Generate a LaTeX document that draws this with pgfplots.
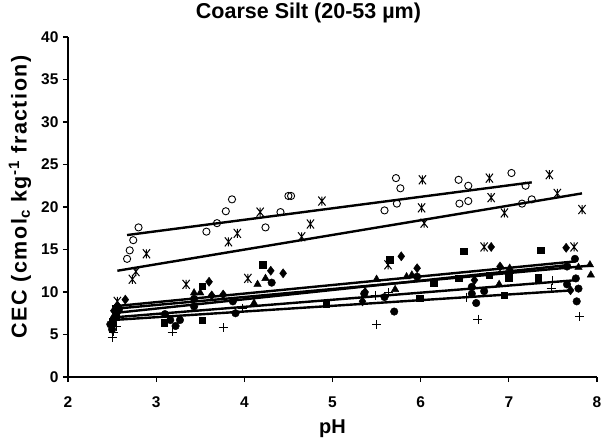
\documentclass[border=0pt]{standalone}
\usepackage{pgfplots}
\pgfplotsset{compat=1.18}
\usepackage{fontspec}
\setmainfont{Liberation Sans}
\pgfdeclareplotmark{xast}{%
  \pgfpathmoveto{\pgfqpoint{-0.8\pgfplotmarksize}{-\pgfplotmarksize}}%
  \pgfpathlineto{\pgfqpoint{0.8\pgfplotmarksize}{\pgfplotmarksize}}%
  \pgfpathmoveto{\pgfqpoint{-0.8\pgfplotmarksize}{\pgfplotmarksize}}%
  \pgfpathlineto{\pgfqpoint{0.8\pgfplotmarksize}{-\pgfplotmarksize}}%
  \pgfpathmoveto{\pgfqpoint{0pt}{-\pgfplotmarksize}}%
  \pgfpathlineto{\pgfqpoint{0pt}{\pgfplotmarksize}}%
  \pgfusepathqstroke}
\begin{document}
\begin{tikzpicture}
\begin{axis}[
  scale only axis, width=529pt, height=340pt,
  xmin=2, xmax=8, ymin=0, ymax=40,
  axis lines=left, axis line style={-, line width=1.6pt},
  xtick={2,3,...,8}, ytick={0,5,...,40},
  tick align=outside, major tick length=5pt,
  tick style={line width=1.2pt, black},
  /pgf/number format/assume math mode=true,
  ticklabel style={font=\fontsize{15.5}{17}\selectfont\bfseries},
  xticklabel style={yshift=-11pt},
  yticklabel style={xshift=-1pt},
  title={\bfseries Coarse Silt (20-53 µm)},
  title style={font=\fontsize{21.5}{23}\selectfont, at={(axis description cs:0.5,1)}, anchor=center, yshift=18pt, xshift=-24pt},
  xlabel={\bfseries pH},
  xlabel style={font=\fontsize{20}{22}\selectfont, at={(axis description cs:0.5,0)}, anchor=center, yshift=-52pt},
  ylabel={\bfseries\addfontfeature{LetterSpace=7}CEC (cmol\textsubscript{c} kg\textsuperscript{-1} fraction)},
  ylabel style={font=\fontsize{21.5}{23}\selectfont, at={(axis description cs:-0.0907,0.53)}, anchor=center},
  clip=false,
]
% open circles
\addplot[only marks, mark=o, mark size=3.6pt, mark options={line width=0.9pt}] coordinates {
(2.67,13.9)(2.70,14.9)(2.74,16.1)(2.80,17.6)(3.57,17.1)(3.69,18.1)(3.79,19.5)(3.86,20.9)
(4.24,17.6)(4.41,19.4)(4.50,21.3)(4.53,21.3)(5.59,19.6)(5.73,20.4)(5.72,23.4)(5.77,22.2)
(6.43,23.2)(6.54,22.5)(6.44,20.4)(6.54,20.7)(7.03,24.0)(7.19,22.5)(7.15,20.4)(7.26,20.9)};
% asterisks
\addplot[only marks, mark=xast, mark size=4.5pt, mark options={line width=1pt}] coordinates {
(2.56,8.9)(2.73,11.5)(2.77,12.4)(2.89,14.5)(3.34,10.9)(3.82,15.9)(3.92,16.9)(4.04,11.6)
(4.18,19.4)(4.65,16.5)(4.75,18.0)(4.88,20.7)(5.63,13.2)(6.02,23.2)(6.01,19.9)(6.04,18.1)
(6.72,15.3)(6.78,23.4)(6.80,21.1)(6.95,19.3)(7.46,23.8)(7.55,21.6)(7.74,15.3)(7.83,19.7)};
% squares
\addplot[only marks, mark=square*, mark size=3.2pt] coordinates {
(2.50,6.5)(2.55,7.3)(3.09,6.4)(3.52,10.7)(3.52,6.7)(4.21,13.2)(4.93,8.6)(5.65,13.8)
(5.99,9.3)(6.15,11.1)(6.43,11.6)(6.49,14.8)(6.78,12.0)(6.95,9.6)(7.00,11.7)(7.33,11.7)(7.36,14.9)};
% diamonds
\addplot[only marks, mark=diamond*, mark size=4.6pt] coordinates {
(2.52,7.8)(2.56,8.4)(2.65,9.1)(3.60,11.2)(3.63,9.6)(3.76,9.7)(4.30,12.5)(4.44,12.2)
(5.34,8.9)(5.37,10.0)(5.78,14.2)(5.96,12.8)(6.61,11.4)(6.80,15.3)(6.90,13.0)(7.65,15.2)(7.70,10.2)};
% triangles
\addplot[only marks, mark=triangle*, mark size=4.3pt] coordinates {
(2.52,7.2)(2.56,8.1)(3.43,9.9)(3.50,9.9)(4.11,8.7)(4.15,10.9)(4.24,11.6)(5.50,11.5)
(5.71,10.3)(5.84,11.8)(5.90,12.0)(6.89,10.9)(7.01,12.8)(7.79,12.9)(7.92,13.2)(7.93,12.0)};
% filled circles
\addplot[only marks, mark=*, mark size=3.8pt] coordinates {
(2.48,6.2)(2.50,5.6)(2.52,6.8)(2.55,7.5)(2.58,8.0)(3.10,7.4)(3.16,6.7)(3.22,6.0)(3.27,6.7)
(3.43,8.3)(3.43,9.2)(3.87,8.9)(3.90,7.5)(4.31,11.1)(5.36,9.8)(5.59,9.4)(5.70,7.7)(5.96,11.8)
(6.58,10.6)(6.58,9.8)(6.63,8.7)(6.72,10.1)(7.66,13.0)(7.75,13.9)(7.76,11.6)(7.66,10.9)(7.79,10.4)(7.77,8.9)};
% plus
\addplot[only marks, mark=+, mark size=4.5pt, mark options={line width=0.9pt}] coordinates {
(2.50,4.7)(2.52,5.3)(2.55,6.0)(3.18,5.3)(3.76,5.8)(3.98,8.1)(5.49,9.6)(5.50,6.2)(5.64,9.9)
(6.52,9.4)(6.65,6.8)(7.48,10.4)(7.50,11.3)(7.80,7.1)};
% trend lines
\addplot[black, line width=2.4pt] coordinates {(2.67,16.7)(7.26,22.9)};
\addplot[black, line width=2.4pt] coordinates {(2.56,12.5)(7.83,21.6)};
\addplot[black, line width=2.4pt] coordinates {(2.50,8.3)(7.75,13.6)};
\addplot[black, line width=2.4pt] coordinates {(2.50,8.0)(7.92,13.1)};
\addplot[black, line width=2.4pt] coordinates {(2.50,7.5)(7.70,13.2)};
\addplot[black, line width=2.4pt] coordinates {(2.50,7.0)(7.77,11.4)};
\addplot[black, line width=2.4pt] coordinates {(2.50,6.7)(7.73,10.2)};
\end{axis}
\pgfresetboundingbox
\path[use as bounding box] (-68pt,-65pt) rectangle (534pt,377pt);
\end{tikzpicture}
\end{document}
